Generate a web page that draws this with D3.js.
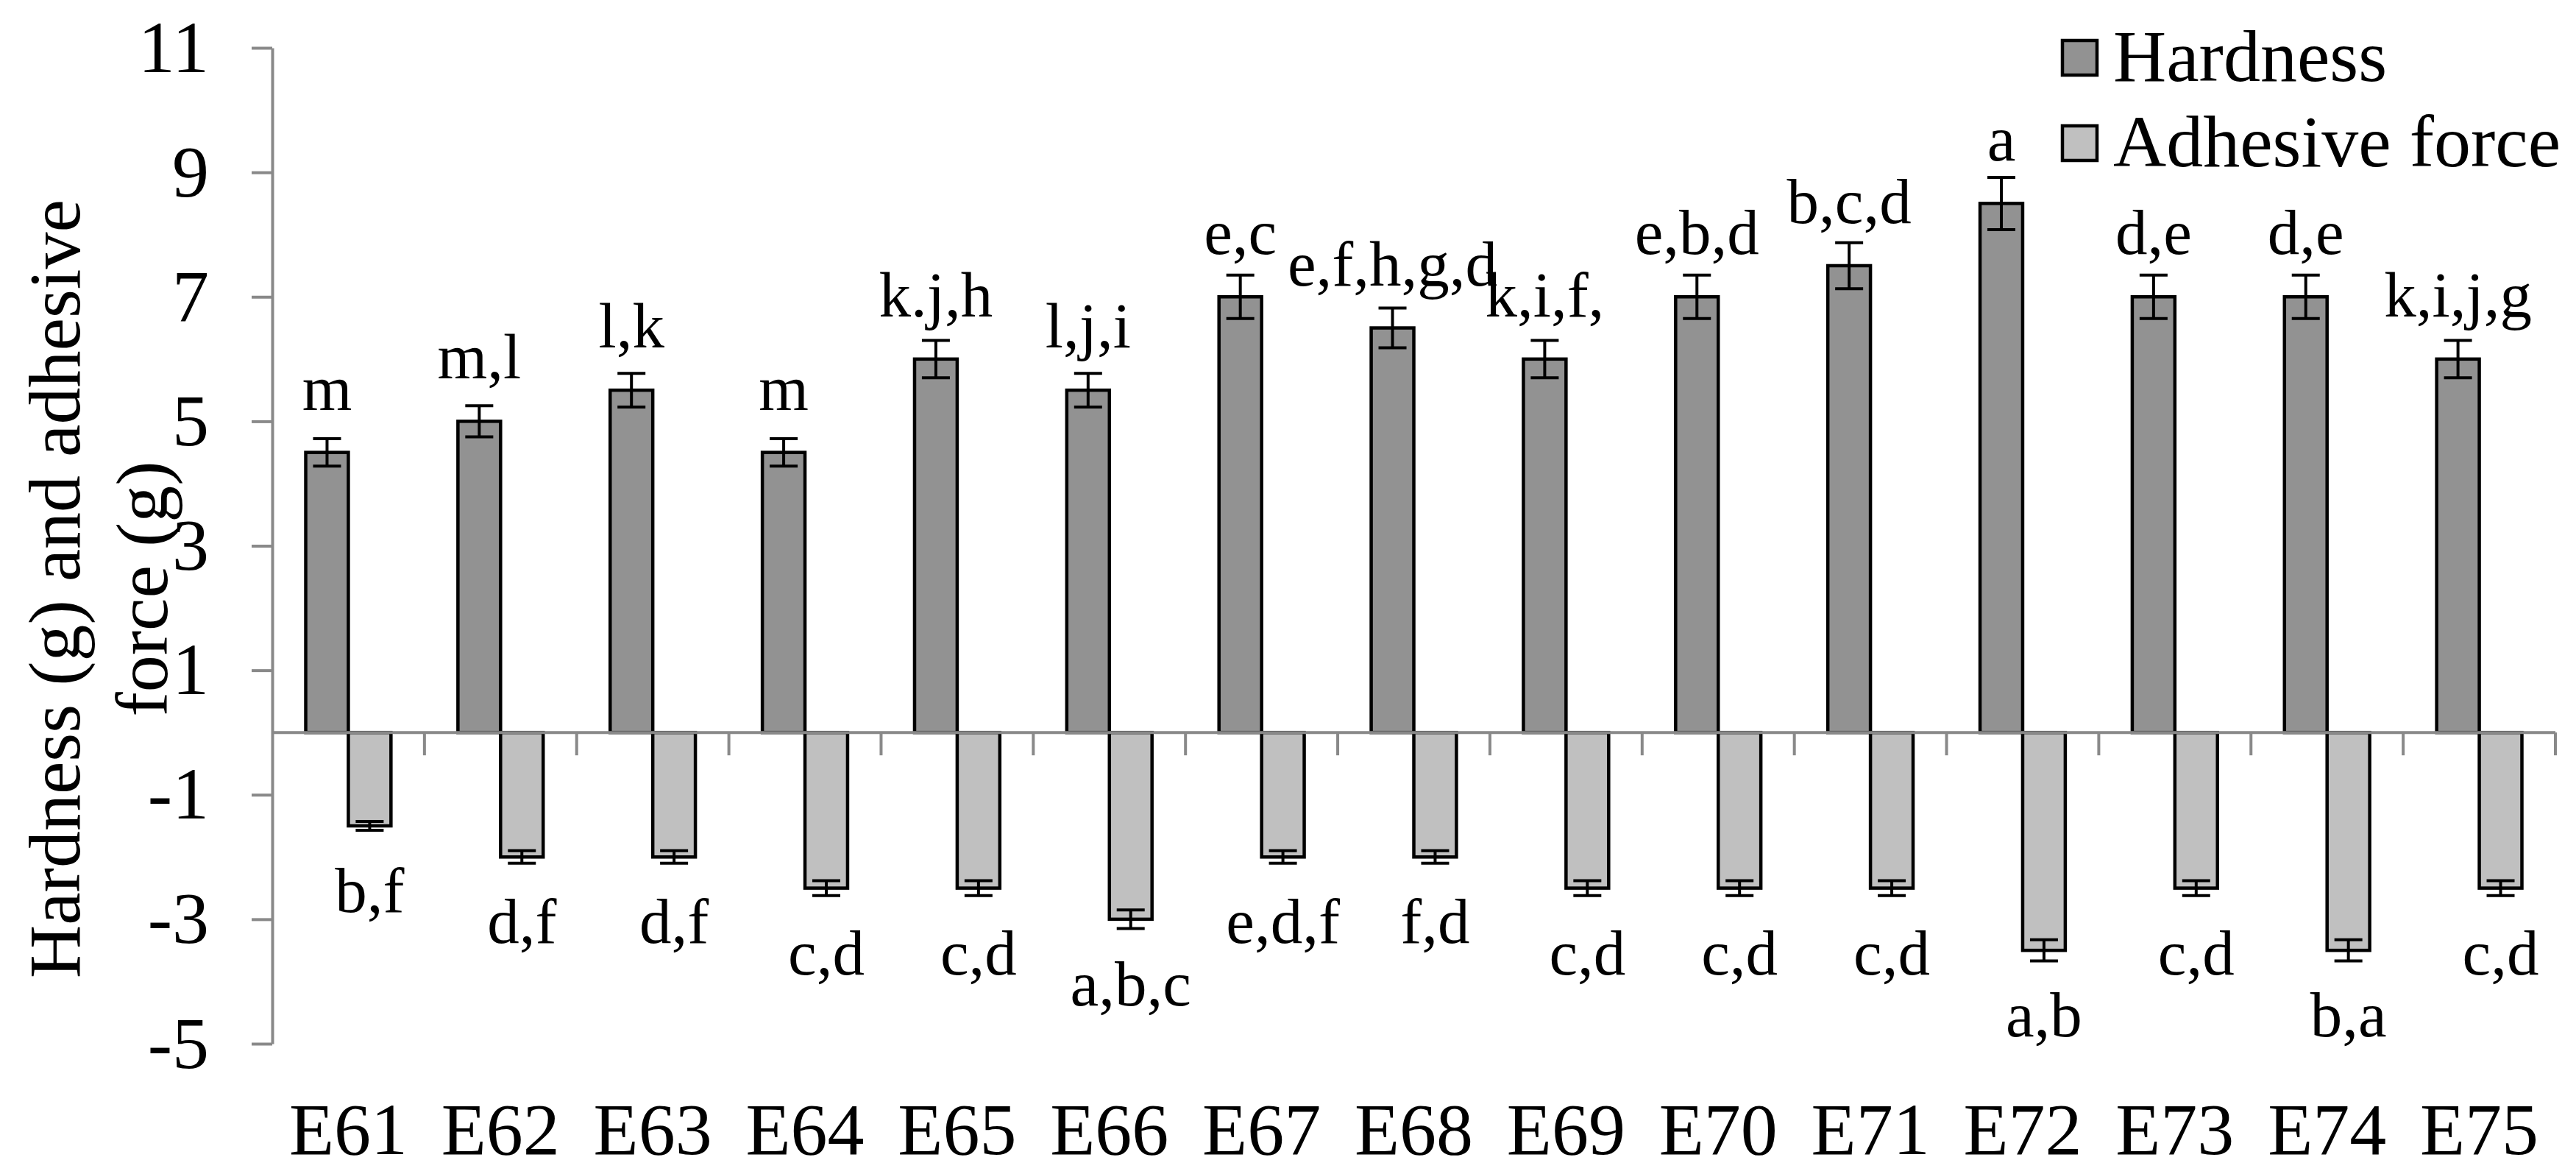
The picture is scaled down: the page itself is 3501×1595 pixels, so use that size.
<!DOCTYPE html>
<html>
<head>
<meta charset="utf-8">
<script src="https://cdn.jsdelivr.net/npm/d3@7"></script>
<style>
  body { margin: 0; background: #fff; }
</style>
</head>
<body>
<svg id="chart"></svg>
<script>
const categories = ["E61", "E62", "E63", "E64", "E65", "E66", "E67", "E68", "E69", "E70", "E71", "E72", "E73", "E74", "E75"];
const hardness = [4.5, 5.0, 5.5, 4.5, 6.0, 5.5, 7.0, 6.5, 6.0, 7.0, 7.5, 8.5, 7.0, 7.0, 6.0];
const hardnessErr = [0.22, 0.25, 0.27, 0.22, 0.3, 0.27, 0.35, 0.32, 0.3, 0.35, 0.37, 0.42, 0.35, 0.35, 0.3];
const adhesive = [-1.5, -2.0, -2.0, -2.5, -2.5, -3.0, -2.0, -2.0, -2.5, -2.5, -2.5, -3.5, -2.5, -3.5, -2.5];
const adhesiveErr = [0.07, 0.1, 0.1, 0.12, 0.12, 0.15, 0.1, 0.1, 0.12, 0.12, 0.12, 0.17, 0.12, 0.17, 0.12];
const hardnessLabels = ["m", "m,l", "l,k", "m", "k.j,h", "l,j,i", "e,c", "e,f,h,g,d", "k,i,f,", "e,b,d", "b,c,d", "a", "d,e", "d,e", "k,i,j,g"];
const adhesiveLabels = ["b,f", "d,f", "d,f", "c,d", "c,d", "a,b,c", "e,d,f", "f,d", "c,d", "c,d", "c,d", "a,b", "c,d", "b,a", "c,d"];
const seriesNames = ["Hardness", "Adhesive force"];
const yTicks = [-5, -3, -1, 1, 3, 5, 7, 9, 11];
const yTitle = ["Hardness (g) and adhesive", "force (g)"];

const width = 3501, height = 1595;
const colors = ["#929292", "#c0c0c0"];
const axisColor = "#898989";
const font = "'Liberation Serif', 'Times New Roman', Tinos, serif";

const svg = d3.select("#chart").attr("width", width).attr("height", height);

const x = d3.scaleBand().domain(categories).range([370, 3473])
  .paddingInner(0.44).paddingOuter(0.22);
const xs = d3.scaleBand().domain(seriesNames).range([0, x.bandwidth()]).padding(0);
const y = d3.scaleLinear().domain([-5, 11]).range([1418, 65]);

const rows = categories.map((c, i) => ({
  cat: c,
  vals: [
    { s: seriesNames[0], v: hardness[i], e: hardnessErr[i], label: hardnessLabels[i] },
    { s: seriesNames[1], v: adhesive[i], e: adhesiveErr[i], label: adhesiveLabels[i] }
  ]
}));

// bars
const groups = svg.append("g").selectAll("g").data(rows).enter().append("g")
  .attr("transform", d => `translate(${x(d.cat)},0)`);

groups.selectAll("rect").data(d => d.vals).enter().append("rect")
  .attr("x", d => xs(d.s))
  .attr("y", d => y(Math.max(0, d.v)))
  .attr("width", xs.bandwidth())
  .attr("height", d => Math.abs(y(d.v) - y(0)))
  .attr("fill", (d, i) => colors[i])
  .attr("stroke", "#000")
  .attr("stroke-width", 4.5);

// error bars (caps at both ends)
const capW = 38;
const cx = d => xs(d.s) + xs.bandwidth() / 2;
const err = groups.selectAll("g.err").data(d => d.vals).enter().append("g").attr("class", "err")
  .attr("stroke", "#000").attr("stroke-width", 4);
err.append("line")
  .attr("x1", cx).attr("x2", cx)
  .attr("y1", d => y(d.v - d.e)).attr("y2", d => y(d.v + d.e));
err.append("line")
  .attr("x1", d => cx(d) - capW / 2).attr("x2", d => cx(d) + capW / 2)
  .attr("y1", d => y(d.v + d.e)).attr("y2", d => y(d.v + d.e));
err.append("line")
  .attr("x1", d => cx(d) - capW / 2).attr("x2", d => cx(d) + capW / 2)
  .attr("y1", d => y(d.v - d.e)).attr("y2", d => y(d.v - d.e));

// letter labels
groups.selectAll("text.lab").data(d => d.vals).enter().append("text").attr("class", "lab")
  .attr("x", cx)
  .attr("y", d => d.v >= 0 ? y(d.v) - 58 : y(d.v) + 117)
  .attr("text-anchor", "middle")
  .attr("font-family", font)
  .attr("font-size", 87)
  .text(d => d.label);

// y axis
const yAxis = svg.append("g").attr("transform", "translate(370,0)")
  .call(d3.axisLeft(y).tickValues(yTicks).tickSize(28).tickSizeOuter(0).tickPadding(58)
    .tickFormat(d => String(d)));
yAxis.select(".domain").attr("stroke", axisColor).attr("stroke-width", 4);
yAxis.selectAll(".tick line").attr("stroke", axisColor).attr("stroke-width", 4);
yAxis.selectAll(".tick text")
  .attr("fill", "#000")
  .attr("font-family", font)
  .attr("font-size", 100);

// x axis at zero with ticks between categories
const xAxis = svg.append("g").attr("stroke", axisColor).attr("stroke-width", 4);
xAxis.append("line")
  .attr("x1", x.range()[0]).attr("x2", x.range()[1])
  .attr("y1", y(0)).attr("y2", y(0));
xAxis.selectAll("line.tk").data(categories).enter().append("line").attr("class", "tk")
  .attr("x1", d => x(d) + x.bandwidth() / 2 + x.step() / 2)
  .attr("x2", d => x(d) + x.bandwidth() / 2 + x.step() / 2)
  .attr("y1", y(0)).attr("y2", y(0) + 31);

// category labels
svg.append("g").selectAll("text").data(categories).enter().append("text")
  .attr("x", d => x(d) + x.bandwidth() / 2)
  .attr("y", 1568)
  .attr("text-anchor", "middle")
  .attr("font-family", font)
  .attr("font-size", 100)
  .text(d => d);

// y title, two lines
svg.append("g").selectAll("text").data(yTitle).enter().append("text")
  .attr("transform", (d, i) => `translate(${108 + i * 119},800) rotate(-90)`)
  .attr("text-anchor", "middle")
  .attr("font-family", font)
  .attr("font-size", 100)
  .text(d => d);

// legend
const legend = svg.append("g").selectAll("g").data(seriesNames).enter().append("g")
  .attr("transform", (d, i) => `translate(2803,${55 + i * 116})`);
legend.append("rect")
  .attr("width", 47).attr("height", 47)
  .attr("fill", (d, i) => colors[i])
  .attr("stroke", "#000").attr("stroke-width", 4.5);
legend.append("text")
  .attr("x", 69).attr("y", 55)
  .attr("font-family", font)
  .attr("font-size", 100)
  .text(d => d);
</script>
</body>
</html>
